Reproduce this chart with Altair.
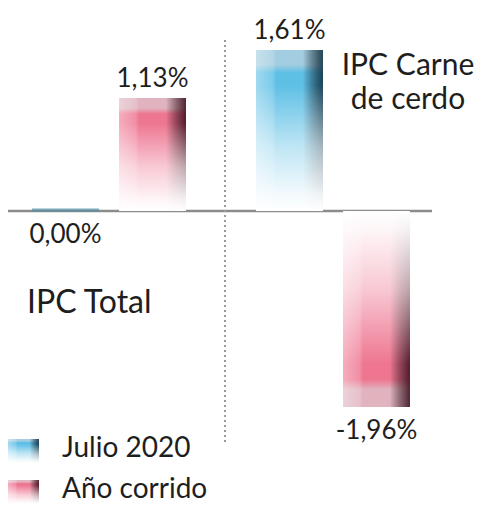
import altair as alt
import pandas as pd

# ---- data ----
groups = ["IPC Total", "IPC Total", "IPC Carne de cerdo", "IPC Carne de cerdo"]
series = ["Julio 2020", "Año corrido", "Julio 2020", "Año corrido"]
values = [0.00, 1.13, 1.61, -1.96]
group_order = ["IPC Total", "IPC Carne de cerdo"]
series_order = ["Julio 2020", "Año corrido"]
title_lines = ["IPC Total", "IPC Carne", "de cerdo"]

labels = [f"{v:.2f}".replace(".", ",") + "%" for v in values]
df = pd.DataFrame({"group": groups, "series": series, "value": values, "label": labels})

FONT = "Lato"
FW = 400
TXT = "#1e1e1e"

palette = {
    "Julio 2020": {"cap": "#a3cde0", "vivid": "#5fc0e6", "dark": "rgba(15,45,65,0.85)", "line": "#4f8da3"},
    "Año corrido": {"cap": "#e0b3bf", "vivid": "#ee7691", "dark": "rgba(60,12,28,0.85)", "line": "#c0506a"},
}

x_enc = alt.X("group:N", scale=alt.Scale(domain=group_order, range=[24, 402],
                                         paddingInner=0.3125, paddingOuter=0), axis=None)
xo_enc = alt.XOffset("series:N", scale=alt.Scale(domain=series_order, paddingInner=0.23, paddingOuter=0))
y_scale = alt.Scale(domain=[-2.93, 2.03], nice=False, zero=False)
y_enc = alt.Y("value:Q", scale=y_scale, axis=None, stack=None)


def lin(stops, x1=0, x2=0, y1=0, y2=1):
    return alt.LinearGradient(gradient="linear",
                              stops=[alt.GradientStop(offset=o, color=c) for o, c in stops],
                              x1=x1, x2=x2, y1=y1, y2=y2)


def gradient_set(name, negative=False):
    p = palette[name]
    a, b = (1, 0) if negative else (0, 1)
    base = lin([(0, p["cap"]), (0.09, p["cap"]), (0.14, p["vivid"]), (1, p["vivid"])], y1=a, y2=b)
    side = lin([(0, "rgba(255,255,255,0.40)"), (0.25, "rgba(255,255,255,0.18)"), (0.3, "rgba(255,255,255,0)"),
                (0.7, "rgba(0,0,0,0)"), (1, p["dark"])], x1=0, x2=1, y1=0, y2=0)
    fade = lin([(0, "rgba(255,255,255,0)"), (0.22, "rgba(255,255,255,0)"), (0.6, "rgba(255,255,255,0.6)"),
                (0.9, "rgba(255,255,255,0.93)"), (1, "rgba(255,255,255,1)")], y1=a, y2=b)
    return [base, side, fade]


base = alt.Chart(df)
layers = []

# zero line
layers.append(alt.Chart(pd.DataFrame({"z": [0]})).mark_rule(color="#8c8c8c", strokeWidth=2.5)
              .encode(y=alt.Y("z:Q", scale=y_scale, axis=None), x=alt.value(0), x2=alt.value(424)))

# bars (non-zero), with layered gradients
for name in series_order:
    for negative in (False, True):
        if not any((s == name) and ((v < 0) if negative else (v > 0)) for s, v in zip(series, values)):
            continue
        cond = (alt.datum.series == name) & ((alt.datum.value < 0) if negative else (alt.datum.value > 0))
        for g in gradient_set(name, negative):
            layers.append(
                base.transform_filter(cond).mark_bar(color=g)
                .encode(x=x_enc, xOffset=xo_enc, y=y_enc, y2=alt.datum(0))
            )

# zero-valued bars as thin ticks
layers.append(
    base.transform_filter(alt.datum.value == 0).mark_tick(thickness=3, size=67, color=palette["Julio 2020"]["line"])
    .encode(x=x_enc, xOffset=xo_enc, y=alt.Y("value:Q", scale=y_scale, axis=None), yOffset=alt.value(-1))
)

# dotted separator
layers.append(alt.Chart(pd.DataFrame({"z": [0]})).mark_rule(color="#9a9a9a", strokeWidth=2, strokeDash=[2, 3])
              .encode(x=alt.value(217), y=alt.value(32), y2=alt.value(437)))

# value labels
layers.append(
    base.transform_filter(alt.datum.value > 0)
    .mark_text(font=FONT, fontWeight=FW, fontSize=26, color=TXT, baseline="alphabetic", dy=-11)
    .encode(x=x_enc, xOffset=xo_enc, y=y_enc, text="label:N")
)
layers.append(
    base.transform_filter(alt.datum.value <= 0)
    .mark_text(font=FONT, fontWeight=FW, fontSize=26, color=TXT, baseline="alphabetic", dy=32)
    .encode(x=x_enc, xOffset=xo_enc, y=y_enc, text="label:N")
)

# group titles
tdf = pd.DataFrame({"t": [0]})
layers.append(alt.Chart(tdf).mark_text(
    font=FONT, fontWeight=FW, fontSize=32, color=TXT, align="left", baseline="alphabetic", text=title_lines[0])
    .encode(x=alt.value(19), y=alt.value(305)))
layers.append(alt.Chart(tdf).mark_text(
    font=FONT, fontWeight=FW, fontSize=30, color=TXT, align="center", baseline="alphabetic", text=title_lines[1])
    .encode(x=alt.value(400), y=alt.value(67)))
layers.append(alt.Chart(tdf).mark_text(
    font=FONT, fontWeight=FW, fontSize=30, color=TXT, align="center", baseline="alphabetic", text=title_lines[2])
    .encode(x=alt.value(400), y=alt.value(101)))

# legend
for i, name in enumerate(series_order):
    y0 = 431 + i * 41
    ldf = pd.DataFrame({"series": [name]})
    for g in gradient_set(name):
        layers.append(alt.Chart(ldf).mark_rect(color=g)
                      .encode(x=alt.value(0), x2=alt.value(31), y=alt.value(y0), y2=alt.value(y0 + 24)))
    layers.append(alt.Chart(ldf).mark_text(font=FONT, fontWeight=FW, fontSize=28, color=TXT,
                                           align="left", baseline="alphabetic")
                  .encode(x=alt.value(54), y=alt.value(y0 + 18), text="series:N"))

chart = alt.layer(*layers).properties(
    width=470, height=496, padding=0, autosize="none"
).configure_view(stroke=None)

chart.save("out.html", embed_options={"renderer": "svg", "actions": False})
